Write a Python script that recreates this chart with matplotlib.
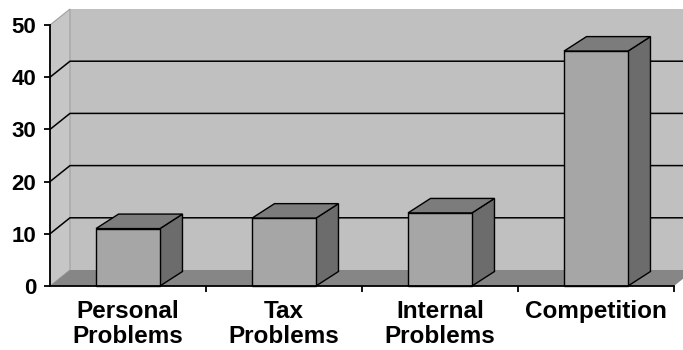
import matplotlib
matplotlib.use("Agg")
import matplotlib.pyplot as plt
from matplotlib.patches import Polygon, Rectangle

# Data
categories = ["Personal\nProblems", "Tax\nProblems", "Internal\nProblems", "Competition"]
values = [11, 13, 14, 45]
y_ticks = [0, 10, 20, 30, 40, 50]

plt.rcParams["font.family"] = ["Liberation Sans", "DejaVu Sans"]

W, H = 683, 350
fig = plt.figure(figsize=(W / 100, H / 100), dpi=100)
ax = fig.add_axes([50 / W, 64 / H, 624 / W, 261 / H])
ax.set_xlim(-0.5, 3.5)
ax.set_ylim(0, 50)

# pixel scale of the data axes
px_x = 624 / 4.0
px_y = 261 / 50.0

# oblique depth offsets (wall and columns), in data units
wdx, wdy = 20 / px_x, 16 / px_y
bdx, bdy = 22.5 / px_x, 14.5 / px_y

x0, x1 = -0.5, 3.5
ymax = 50

wall_c = "#c0c0c0"
side_wall_c = "#c6c6c6"
floor_c = "#868686"
front_c = "#a6a6a6"
top_c = "#7c7c7c"
side_c = "#6c6c6c"

# back wall
ax.add_patch(Polygon([(x0 + wdx, wdy), (x1 + wdx + 1, wdy), (x1 + wdx + 1, ymax + wdy),
                      (x0 + wdx, ymax + wdy)], closed=True, facecolor=wall_c,
                     edgecolor="none", clip_on=False, zorder=1))
# left side wall
ax.add_patch(Polygon([(x0, 0), (x0 + wdx, wdy), (x0 + wdx, ymax + wdy), (x0, ymax)],
                     closed=True, facecolor=side_wall_c, edgecolor="#a0a0a0",
                     linewidth=0.8, clip_on=False, zorder=1.5))

# gridlines on the walls
for v in y_ticks[1:-1]:
    ax.plot([x0, x0 + wdx, x1 + wdx + 1], [v, v + wdy, v + wdy], color="black",
            linewidth=1.1, clip_on=False, zorder=2)

# floor
ax.add_patch(Polygon([(x0, 0), (x1, 0), (x1 + wdx, wdy), (x0 + wdx, wdy)], closed=True,
                     facecolor=floor_c, edgecolor="none", clip_on=False, zorder=3))

# columns
half = 0.205
for i, v in enumerate(values):
    l, r = i - half, i + half
    ax.add_patch(Polygon([(r, 0), (r + bdx, bdy), (r + bdx, v + bdy), (r, v)], closed=True,
                         facecolor=side_c, edgecolor="black", linewidth=1.0,
                         clip_on=False, zorder=4))
    ax.add_patch(Polygon([(l, v), (r, v), (r + bdx, v + bdy), (l + bdx, v + bdy)],
                         closed=True, facecolor=top_c, edgecolor="black", linewidth=1.0,
                         clip_on=False, zorder=4))
    ax.add_patch(Rectangle((l, 0), 2 * half, v, facecolor=front_c, edgecolor="black",
                           linewidth=1.0, clip_on=False, zorder=5))

# axes
for s in ["top", "right"]:
    ax.spines[s].set_visible(False)
for s in ["left", "bottom"]:
    ax.spines[s].set_linewidth(1.3)
    ax.spines[s].set_zorder(6)
ax.set_facecolor("none")

ax.set_yticks(y_ticks)
ax.set_yticklabels([str(t) for t in y_ticks], fontsize=16, fontweight="bold")
ax.tick_params(axis="y", direction="out", length=4, width=1.3, pad=6)

ax.set_xticks(range(len(categories)))
ax.set_xticklabels(categories, fontsize=17.5, fontweight="bold", linespacing=1.12)
ax.set_xticks([0.5, 1.5, 2.5, 3.5], minor=True)
ax.tick_params(axis="x", which="major", length=0, pad=10)
ax.tick_params(axis="x", which="minor", direction="out", length=4, width=1.3)

fig.savefig("out.png", dpi=100, facecolor="white")
